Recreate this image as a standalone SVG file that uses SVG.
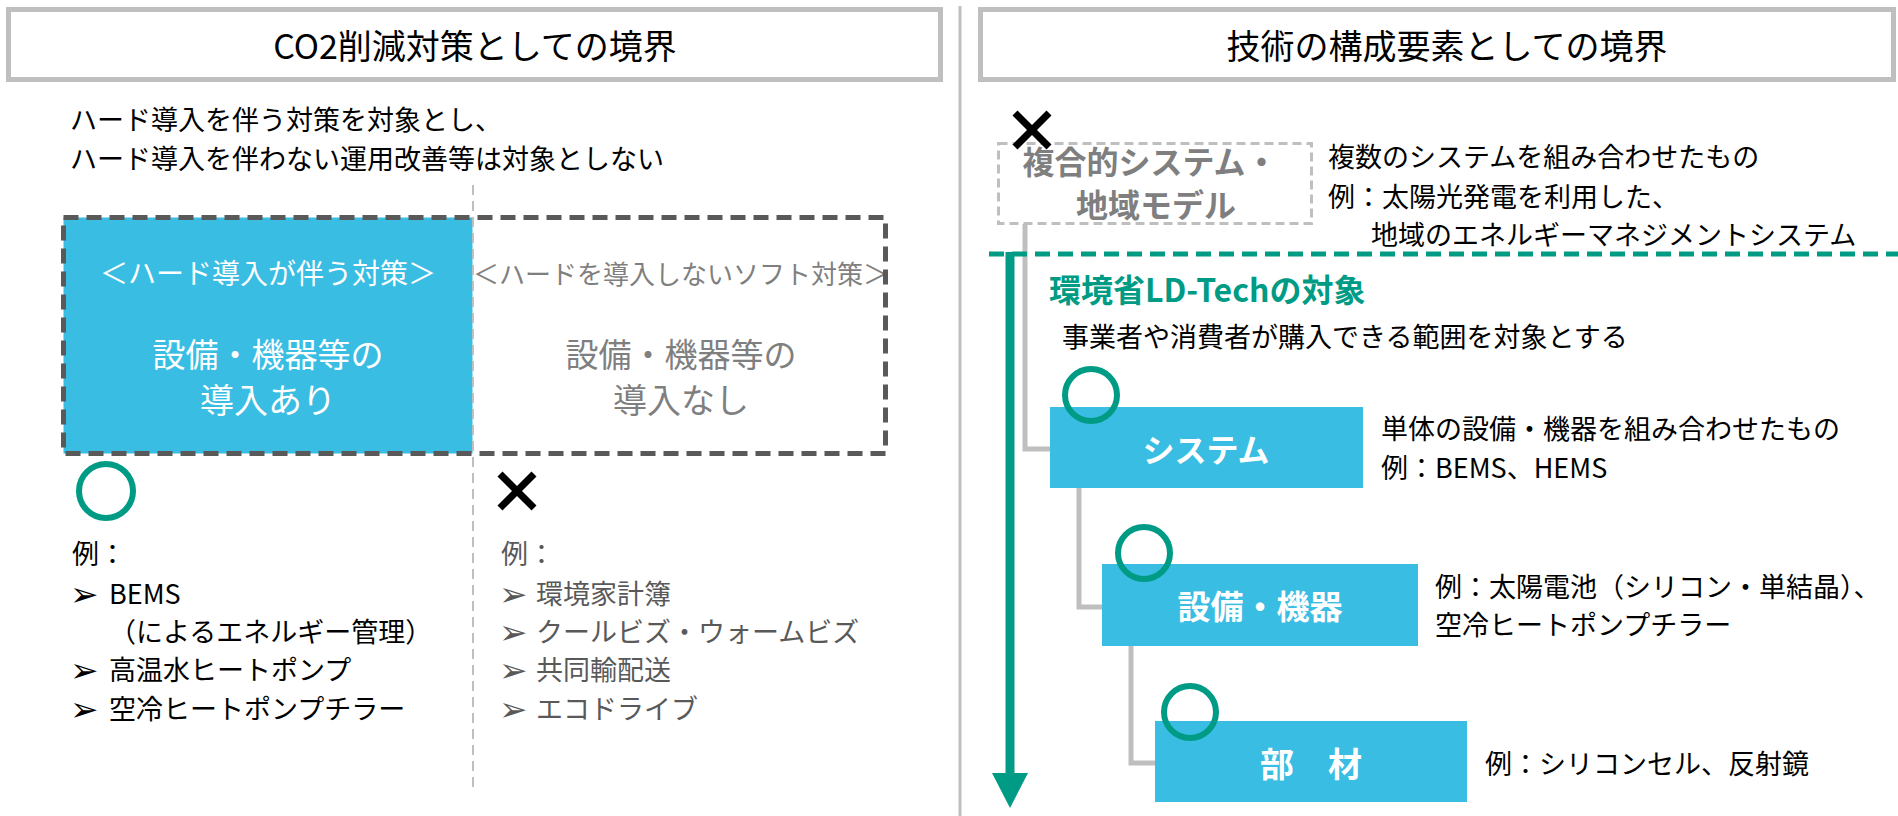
<svg xmlns="http://www.w3.org/2000/svg" width="1898" height="816" viewBox="0 0 1898 816">
<defs>
<style>
text{font-family:"Meiryo UI","Noto Sans CJK JP","Noto Sans",sans-serif;}
.t27{font-size:27px;fill:#000;}
.g27{font-size:27px;fill:#595959;}
.title{font-size:34px;fill:#000;text-anchor:middle;}
.wh{fill:#fff;text-anchor:middle;}
.gr{fill:#7f7f7f;text-anchor:middle;}
.bold{font-weight:bold;}
.bul{font-family:"DejaVu Sans",sans-serif;font-size:34px;}
.blue{fill:#39bde3;}
.circ{fill:none;stroke:#009b84;stroke-width:6;}
.xm{stroke:#000;stroke-width:7;}
.conn{fill:none;stroke:#bfbfbf;stroke-width:5;}
</style>
</defs>
<rect width="1898" height="816" fill="#fff"/>

<g id="separator">
<line x1="960" y1="6" x2="960" y2="816" stroke="#bfbfbf" stroke-width="3"/>
</g>

<!-- Left panel -->
<g id="left-title">
<rect x="8.5" y="9.5" width="932" height="70" fill="#fff" stroke="#bfbfbf" stroke-width="5"/>
<text class="title" x="475" y="59">CO2削減対策としての境界</text>
</g>
<g id="left-intro">
<text class="t27" x="70" y="130">ハード導入を伴う対策を対象とし、</text>
<text class="t27" x="70" y="169">ハード導入を伴わない運用改善等は対象としない</text>
</g>
<g id="hard-box">
<rect class="blue" x="63.5" y="217.5" width="409" height="236"/>
<text class="wh" x="268" y="284" font-size="28">＜ハード導入が伴う対策＞</text>
<text class="wh" x="268" y="367" font-size="33">設備・機器等の</text>
<text class="wh" x="268" y="413" font-size="34">導入あり</text>
</g>
<g id="soft-box">
<text class="gr" x="681" y="284" font-size="26">＜ハードを導入しないソフト対策＞</text>
<text class="gr" x="681" y="367" font-size="33">設備・機器等の</text>
<text class="gr" x="681" y="413" font-size="34">導入なし</text>
</g>
<g id="boundary-box">
<rect x="63.5" y="217.5" width="822" height="236" fill="none" stroke="#595959" stroke-width="5" stroke-dasharray="15 8"/>
<line x1="473" y1="185" x2="473" y2="793" stroke="#bfbfbf" stroke-width="2" stroke-dasharray="10 6"/>
</g>
<g id="hard-examples">
<circle class="circ" cx="106" cy="491" r="27"/>
<text class="t27" x="72" y="564">例：</text>
<text class="bul" x="70" y="606">➢</text>
<text class="t27" x="109" y="604">BEMS</text>
<text class="t27" x="109" y="642">（によるエネルギー管理）</text>
<text class="bul" x="70" y="682">➢</text>
<text class="t27" x="109" y="680">高温水ヒートポンプ</text>
<text class="bul" x="70" y="721">➢</text>
<text class="t27" x="109" y="719">空冷ヒートポンプチラー</text>
</g>
<g id="soft-examples">
<line class="xm" x1="500" y1="474" x2="534" y2="508"/>
<line class="xm" x1="534" y1="474" x2="500" y2="508"/>
<text class="g27" x="501" y="564">例：</text>
<text class="bul" x="499" y="606" fill="#595959">➢</text>
<text class="g27" x="536" y="604">環境家計簿</text>
<text class="bul" x="499" y="644" fill="#595959">➢</text>
<text class="g27" x="536" y="642">クールビズ・ウォームビズ</text>
<text class="bul" x="499" y="682" fill="#595959">➢</text>
<text class="g27" x="536" y="680">共同輸配送</text>
<text class="bul" x="499" y="721" fill="#595959">➢</text>
<text class="g27" x="536" y="719">エコドライブ</text>
</g>

<!-- Right panel -->
<g id="right-title">
<rect x="980.5" y="9.5" width="913" height="70" fill="#fff" stroke="#bfbfbf" stroke-width="5"/>
<text class="title" x="1447" y="59">技術の構成要素としての境界</text>
</g>

<g id="connectors">
<path class="conn" d="M1025 224 V449 H1050"/>
<path class="conn" d="M1079 488 V607 H1102"/>
<path class="conn" d="M1131 646 V763 H1155"/>
<line x1="989" y1="254" x2="1898" y2="254" stroke="#009b84" stroke-width="5" stroke-dasharray="15 8"/>
<line x1="1010" y1="252" x2="1010" y2="776" stroke="#009b84" stroke-width="9"/>
<polygon points="992,773 1028,773 1010,808" fill="#009b84"/>
</g>

<g id="composite-model">
<rect x="998.5" y="143.5" width="313" height="80" fill="none" stroke="#bfbfbf" stroke-width="3" stroke-dasharray="9 5"/>
<text class="gr bold" x="1150" y="174" font-size="32">複合的システム・</text>
<text class="gr bold" x="1156" y="217" font-size="32">地域モデル</text>
<line class="xm" x1="1015" y1="113" x2="1049" y2="147"/>
<line class="xm" x1="1049" y1="113" x2="1015" y2="147"/>
<text class="t27" x="1328" y="167">複数のシステムを組み合わせたもの</text>
<text class="t27" x="1328" y="207">例：太陽光発電を利用した、</text>
<text class="t27" x="1371" y="245">地域のエネルギーマネジメントシステム</text>
</g>

<g id="ld-tech-scope">
<text x="1049" y="302" font-size="32" font-weight="bold" fill="#009b84">環境省LD-Techの対象</text>
<text class="t27" x="1062" y="347">事業者や消費者が購入できる範囲を対象とする</text>
</g>

<g id="system">
<rect class="blue" x="1050" y="407" width="313" height="81"/>
<text class="wh bold" x="1206" y="462" font-size="32">システム</text>
<circle class="circ" cx="1091" cy="395" r="26"/>
<text class="t27" x="1381" y="439">単体の設備・機器を組み合わせたもの</text>
<text class="t27" x="1381" y="478">例：BEMS、HEMS</text>
</g>

<g id="equipment">
<rect class="blue" x="1102" y="564" width="316" height="82"/>
<text class="wh bold" x="1260" y="619" font-size="33">設備・機器</text>
<circle class="circ" cx="1144" cy="553" r="26"/>
<text class="t27" x="1435" y="597">例：太陽電池（シリコン・単結晶）、</text>
<text class="t27" x="1435" y="635">空冷ヒートポンプチラー</text>
</g>

<g id="parts">
<rect class="blue" x="1155" y="721" width="312" height="81"/>
<text class="wh bold" x="1311" y="777" font-size="34">部　材</text>
<circle class="circ" cx="1190" cy="712" r="26"/>
<text class="t27" x="1485" y="774">例：シリコンセル、反射鏡</text>
</g>
</svg>
